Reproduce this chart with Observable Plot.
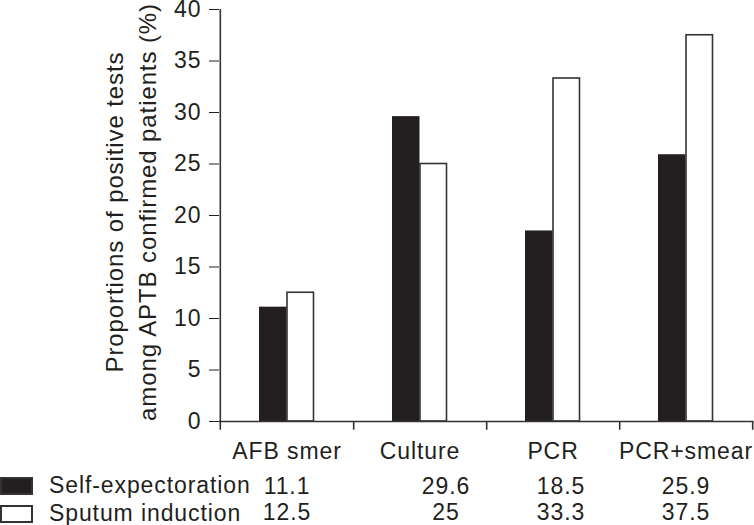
<!DOCTYPE html>
<html><head><meta charset="utf-8">
<script src="https://cdn.jsdelivr.net/npm/d3@7"></script>
<script src="https://cdn.jsdelivr.net/npm/@observablehq/plot@0.6"></script>
<style>
body{margin:0;background:#fff;}
#wrap{position:relative;width:754px;height:525px;font-family:"Liberation Sans",Arial,sans-serif;color:#231f20;}
.leg{position:absolute;left:0;display:flex;align-items:center;font-size:23px;letter-spacing:0.9px;line-height:1;}
.sw{width:33px;height:18px;box-sizing:border-box;margin-right:16px;}
</style></head><body><div id="wrap"></div>
<script>
const categories = ["AFB smer", "Culture", "PCR", "PCR+smear"];
const series = ["Self-expectoration", "Sputum induction"];
const selfExpectoration = [11.1, 29.6, 18.5, 25.9];
const sputumInduction = [12.5, 25, 33.3, 37.5];
const tableText = [["11.1", "29.6", "18.5", "25.9"], ["12.5", "25", "33.3", "37.5"]];
const yTicks = [0, 5, 10, 15, 20, 25, 30, 35, 40];
const yLabelLines = ["Proportions of positive tests", "among APTB confirmed patients (%)"];

// styling (not data)
const ink = "#231f20";
const tableDx = [0, 26, 8, 0];

const selfRows = categories.map((c, i) => ({category: c, value: selfExpectoration[i]}));
const indRows = categories.map((c, i) => ({category: c, value: sputumInduction[i]}));

const half = 533.5 / 4 / 2;

const chart = Plot.plot({
  width: 754,
  height: 525,
  marginLeft: 219,
  marginRight: 0.5,
  marginTop: 9,
  marginBottom: 104,
  style: {fontFamily: '"Liberation Sans", Arial, sans-serif', fontSize: "23px", letterSpacing: "0.9px", color: ink, background: "#fff"},
  x: {domain: categories, padding: 0, tickSize: 0, tickPadding: 21, label: null},
  y: {domain: [0, 40], ticks: yTicks, tickSize: 10, tickPadding: 8, label: null},
  marks: [
    Plot.barY(selfRows, {x: "category", y: "value", fill: ink, insetLeft: 39, insetRight: 66.5}),
    Plot.barY(indRows, {x: "category", y: "value", fill: "#fff", stroke: "#333", strokeWidth: 1.6, insetLeft: 67, insetRight: 39.5}),
    Plot.ruleY([0], {stroke: "#333", strokeWidth: 1.6}),
    Plot.ruleX([categories[0]], {dx: -half, y1: -0.85, y2: 40, stroke: "#333", strokeWidth: 1.6}),
    Plot.ruleX(categories, {dx: half, y1: -0.85, y2: 0, stroke: "#333", strokeWidth: 1.6}),
    Plot.text([yLabelLines[0]], {text: d => d, frameAnchor: "left", textAnchor: "middle", rotate: -90, dx: -104, dy: -3.5, fontSize: 24, fill: ink}),
    Plot.text([yLabelLines[1]], {text: d => d, frameAnchor: "left", textAnchor: "middle", rotate: -90, dx: -71, dy: -3.5, fontSize: 24, fill: ink}),
    ...categories.map((c, i) => Plot.text([c], {
      x: d => d, text: () => tableText[0][i], frameAnchor: "bottom", lineAnchor: "bottom", dy: 72, dx: tableDx[i], fill: ink
    })),
    ...categories.map((c, i) => Plot.text([c], {
      x: d => d, text: () => tableText[1][i], frameAnchor: "bottom", lineAnchor: "bottom", dy: 98, dx: tableDx[i], fill: ink
    }))
  ]
});
const wrap = document.getElementById("wrap");
wrap.appendChild(chart);

const legendFill = [ink, "#fff"];
const legendTop = [474, 502];
series.forEach((s, i) => {
  const row = document.createElement("div");
  row.className = "leg";
  row.style.top = legendTop[i] + "px";
  const sw = document.createElement("div");
  sw.className = "sw";
  sw.style.background = legendFill[i];
  sw.style.border = "2px solid #333";
  const t = document.createElement("span");
  t.textContent = s;
  row.appendChild(sw);
  row.appendChild(t);
  wrap.appendChild(row);
});
</script></body></html>
